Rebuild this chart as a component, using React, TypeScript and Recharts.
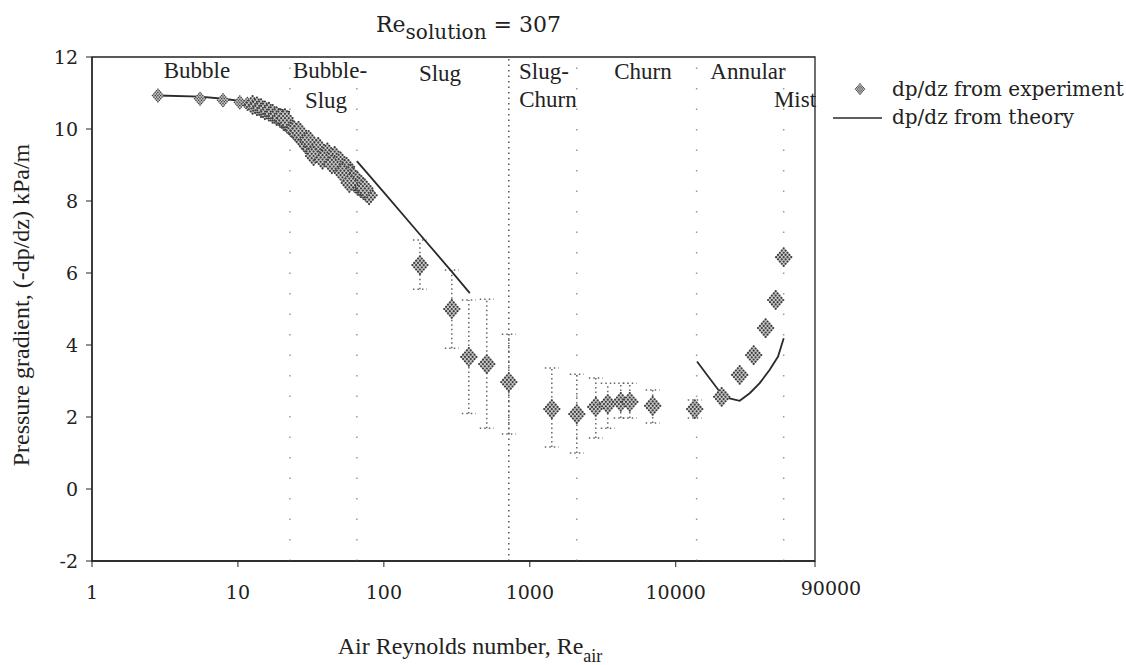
import { ComposedChart, Scatter, XAxis, YAxis, ErrorBar, ReferenceLine, ReferenceArea, Legend } from "recharts";

const xTicks = [1, 10, 100, 1000, 10000, 90000];
const yTicks = [-2, 0, 2, 4, 6, 8, 10, 12];

// experiment - bubble flow
const bubbleRe = [2.83, 5.5, 7.9, 10.3, 11.6];
const bubbleDp = [10.93, 10.84, 10.8, 10.74, 10.7];

// experiment - bubble / bubble-slug cluster
const clusterRe = [12.6, 13.5, 14.4, 15.3, 16.3, 17.3, 18.4, 19.5, 20.6, 21.8, 23.0, 24.3, 25.6, 27.0, 28.5, 30.0, 31.6, 33.3, 35.0, 36.8, 38.7, 40.7, 42.8, 45.0, 47.3, 49.7, 52.2, 54.8, 57.5, 60.3, 63.2, 66.2, 69.3, 72.5, 75.8, 79.2, 21.0, 26.0, 30.5, 35.5, 41.0, 46.0, 50.5, 55.5, 59.0, 62.0, 66.0, 70.0, 74.0, 33.0, 38.0, 44.0, 52.0, 58.0];
const clusterDp = [10.67, 10.63, 10.58, 10.52, 10.48, 10.42, 10.36, 10.3, 10.22, 10.14, 10.05, 9.96, 9.86, 9.76, 9.64, 9.52, 9.44, 9.38, 9.34, 9.3, 9.26, 9.22, 9.18, 9.12, 9.05, 8.98, 8.9, 8.8, 8.7, 8.6, 8.5, 8.42, 8.36, 8.3, 8.24, 8.16, 10.3, 9.95, 9.7, 9.5, 9.35, 9.25, 9.1, 8.95, 8.75, 8.65, 8.55, 8.45, 8.35, 9.25, 9.15, 9.02, 8.78, 8.5];

// experiment - slug / churn with error bars
const barRe = [176.6, 292, 382, 507, 718, 1415, 2099, 2832, 3422, 4200, 4842, 6950, 13490];
const barDp = [6.22, 5.0, 3.67, 3.47, 2.97, 2.22, 2.08, 2.28, 2.36, 2.42, 2.42, 2.31, 2.22];
const barLow = [5.55, 3.91, 2.1, 1.69, 1.53, 1.17, 1.0, 1.42, 1.69, 1.97, 1.97, 1.83, 1.97];
const barHigh = [6.92, 6.08, 5.25, 5.27, 4.3, 3.36, 3.19, 3.08, 2.94, 2.94, 2.94, 2.75, 2.47];

// experiment - annular / mist
const annRe = [20650, 27420, 34200, 41300, 48400, 54900];
const annDp = [2.56, 3.17, 3.72, 4.47, 5.25, 6.44];

// theory
const thBubbleRe = [2.83, 5.5, 7.9, 10.3, 12.6, 16.6, 22.7];
const thBubbleDp = [10.93, 10.9, 10.84, 10.78, 10.72, 10.62, 10.47];
const thSlugRe = [65.3, 100, 176.6, 292, 388];
const thSlugDp = [9.11, 8.24, 7.07, 6.04, 5.44];
const thAnnRe = [13990, 17100, 20560, 22230, 27420, 32140, 37600, 44050, 50230, 54950];
const thAnnDp = [3.54, 3.07, 2.64, 2.54, 2.45, 2.66, 2.94, 3.31, 3.68, 4.19];

// flow regime boundaries
const softBounds = [22.7, 65.3, 2099, 13900, 54900];
const hardBound = 718;

const regimeLabels = [
    { text: "Bubble", x: 197, y: 78 },
    { text: "Bubble-", x: 330, y: 78 },
    { text: "Slug", x: 326, y: 108 },
    { text: "Slug", x: 440, y: 81 },
    { text: "Slug-", x: 544, y: 79 },
    { text: "Churn", x: 548, y: 107 },
    { text: "Churn", x: 643, y: 79 },
    { text: "Annular", x: 748, y: 79 },
    { text: "Mist", x: 795, y: 107 },
];

const times = "'Liberation Serif', 'Times New Roman', serif";
const book = "'DejaVu Serif', serif";

const pts = (re: number[], dp: number[]) => re.map((r, i) => ({ re: r, dp: dp[i] }));

const bubbleData = pts(bubbleRe, bubbleDp);
const clusterData = pts(clusterRe, clusterDp);
const barData = barRe.map((r, i) => ({ re: r, dp: barDp[i], err: [barDp[i] - barLow[i], barHigh[i] - barDp[i]] }));
const annData = pts(annRe, annDp);

function Marker({ cx, cy, s = 1 }: { cx: number; cy: number; s?: number }) {
    const dots = [];
    for (let j = -4; j <= 4; j++) {
        for (let i = -4; i <= 4; i++) {
            if ((i + j) % 2 !== 0) continue;
            if (Math.abs(i) + Math.abs(j) > 4) continue;
            dots.push(<circle key={i + "_" + j} cx={cx + i * 1.9 * s} cy={cy + j * 2.2 * s} r={1.1 * s} fill="#3d3d3d" />);
        }
    }
    const hw = 8.4 * s, hh = 9.8 * s;
    return (
        <g>
            <polygon points={`${cx},${cy - hh} ${cx + hw},${cy} ${cx},${cy + hh} ${cx - hw},${cy}`} fill="#cacaca" />
            {dots}
        </g>
    );
}

const bigMarker = (p: any) => <Marker cx={p.cx} cy={p.cy} />;
const smallMarker = (p: any) => <Marker cx={p.cx} cy={p.cy} s={0.72} />;
const noMarker = () => <g />;

const XTick = (props: any) => {
    const { x, y, payload } = props;
    const last = payload.value === 90000;
    return (
        <text x={x + (last ? 16 : 0)} y={y + (last ? 26 : 30)} textAnchor="middle" fontFamily={book} fontSize={19} fill="#222">
            {payload.value}
        </text>
    );
};

const renderLegend = () => (
    <div style={{ fontFamily: book, fontSize: 20, color: "#222", lineHeight: "28px", whiteSpace: "nowrap" }}>
        <div style={{ display: "flex", alignItems: "center" }}>
            <svg width={60} height={28}>
                <Marker cx={34} cy={14} s={0.6} />
            </svg>
            <span style={{ marginLeft: 6 }}>dp/dz from experiment</span>
        </div>
        <div style={{ display: "flex", alignItems: "center" }}>
            <svg width={60} height={28}>
                <line x1={7} x2={56} y1={15} y2={15} stroke="#2a2a2a" strokeWidth={1.6} />
            </svg>
            <span style={{ marginLeft: 6 }}>dp/dz from theory</span>
        </div>
    </div>
);

export default function App() {
    const lineStyle = { stroke: "#2a2a2a", strokeWidth: 1.8 };
    return (
        <div style={{ position: "absolute", left: 0, top: 0, width: 1126, height: 665, background: "#fff" }}>
            <ComposedChart width={1126} height={665} margin={{ top: 57, right: 311, bottom: 74, left: 32 }}>
                <XAxis
                    dataKey="re"
                    type="number"
                    scale="log"
                    domain={[1, 90000]}
                    ticks={xTicks}
                    allowDataOverflow
                    height={30}
                    tickSize={6}
                    tick={<XTick />}
                    axisLine={{ stroke: "#222", strokeWidth: 1.3 }}
                    tickLine={{ stroke: "#222" }}
                />
                <YAxis
                    dataKey="dp"
                    type="number"
                    domain={[-2, 12]}
                    ticks={yTicks}
                    width={60}
                    tickSize={6}
                    tickMargin={8}
                    tick={{ fontFamily: book, fontSize: 19, fill: "#222" }}
                    axisLine={{ stroke: "#222", strokeWidth: 1.3 }}
                    tickLine={{ stroke: "#222" }}
                />
                <ReferenceArea x1={1} x2={90000} y1={-2} y2={12} fill="none" stroke="#222" strokeWidth={1.3} />
                {softBounds.map((b) => (
                    <ReferenceLine key={b} x={b} stroke="#9a9a9a" strokeWidth={1.5} strokeDasharray="1.5 19" />
                ))}
                <ReferenceLine x={hardBound} stroke="#555" strokeWidth={1.5} strokeDasharray="1.5 4" />

                <Scatter data={thBubbleRe.map((r, i) => ({ re: r, dp: thBubbleDp[i] }))} line={lineStyle} shape={noMarker} isAnimationActive={false} />
                <Scatter data={thSlugRe.map((r, i) => ({ re: r, dp: thSlugDp[i] }))} line={lineStyle} shape={noMarker} isAnimationActive={false} />
                <Scatter data={thAnnRe.map((r, i) => ({ re: r, dp: thAnnDp[i] }))} line={lineStyle} shape={noMarker} isAnimationActive={false} />

                <Scatter data={bubbleData} shape={smallMarker} isAnimationActive={false} />
                <Scatter data={clusterData} shape={bigMarker} isAnimationActive={false} />
                <Scatter data={barData} shape={bigMarker} isAnimationActive={false}>
                    <ErrorBar dataKey="err" direction="y" width={7} stroke="#666" strokeWidth={1.5} strokeDasharray="1.5 3" />
                </Scatter>
                <Scatter data={annData} shape={bigMarker} isAnimationActive={false} />

                <Legend
                    layout="horizontal"
                    verticalAlign="middle"
                    align="center"
                    content={renderLegend}
                    wrapperStyle={{ left: 826, top: 75, width: 300 }}
                />
            </ComposedChart>

            <svg width={1126} height={665} style={{ position: "absolute", left: 0, top: 0, pointerEvents: "none" }}>
                <text x={376} y={32} fontFamily={book} fontSize={22} fill="#222">
                    Re<tspan dy={7} fontSize={20}>solution</tspan>
                    <tspan dy={-7}> = 307</tspan>
                </text>
                {regimeLabels.map((l, i) => (
                    <text key={i} x={l.x} y={l.y} textAnchor="middle" fontFamily={times} fontSize={23} fill="#222">
                        {l.text}
                    </text>
                ))}
                <text transform="translate(29,305) rotate(-90)" textAnchor="middle" fontFamily={times} fontSize={24} fill="#222">
                    Pressure gradient, (-dp/dz) kPa/m
                </text>
                <text x={470} y={654} textAnchor="middle" fontFamily={times} fontSize={24} fill="#222">
                    Air Reynolds number, Re<tspan dy={8} fontSize={18}>air</tspan>
                </text>
            </svg>
        </div>
    );
}
